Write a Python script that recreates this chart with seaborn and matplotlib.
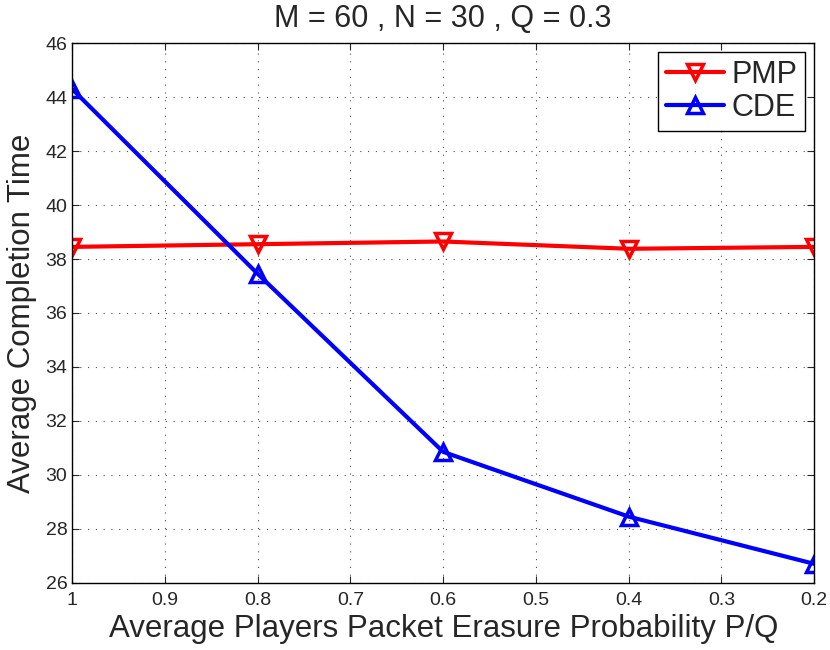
import numpy as np
import pandas as pd
import seaborn as sns
import matplotlib
matplotlib.use("Agg")
import matplotlib.pyplot as plt

# values
erasure_prob = [1.0, 0.8, 0.6, 0.4, 0.2]
pmp_time = [38.45, 38.55, 38.65, 38.38, 38.45]
cde_time = [44.3, 37.45, 30.85, 28.45, 26.7]
x_ticks = [1, 0.9, 0.8, 0.7, 0.6, 0.5, 0.4, 0.3, 0.2]
x_tick_labels = ["1", "0.9", "0.8", "0.7", "0.6", "0.5", "0.4", "0.3", "0.2"]
y_ticks = [26, 28, 30, 32, 34, 36, 38, 40, 42, 44, 46]

df = pd.DataFrame({"p": erasure_prob, "PMP": pmp_time, "CDE": cde_time})

sns.set_style("ticks")
plt.rcParams['font.family'] = ['Liberation Sans', 'DejaVu Sans']

fig = plt.figure(figsize=(8.3, 6.5), dpi=100)
ax = fig.add_axes([0.087, 0.1035, 0.894, 0.830])

sns.lineplot(data=df, x="p", y="PMP", ax=ax, color="red", linewidth=3,
             marker="v", markersize=12, markerfacecolor="none",
             markeredgecolor="red", markeredgewidth=2.5, label="PMP")
sns.lineplot(data=df, x="p", y="CDE", ax=ax, color="blue", linewidth=3,
             marker="^", markersize=12, markerfacecolor="none",
             markeredgecolor="blue", markeredgewidth=2.5, label="CDE")

ax.set_xlim(1, 0.2)
ax.set_ylim(26, 46)
ax.set_xticks(x_ticks)
ax.set_xticklabels(x_tick_labels)
ax.set_yticks(y_ticks)
ax.tick_params(direction="in", labelsize=14, length=5, top=True, right=True)
ax.tick_params(axis="x", pad=7)
ax.grid(True, linestyle=(0, (1, 6)), color="black", linewidth=0.8, alpha=0.7)
for s in ax.spines.values():
    s.set_visible(True)
    s.set_color("black")
    s.set_linewidth(1)

ax.set_title("M = 60 , N = 30 , Q = 0.3", fontsize=22, pad=12)
ax.set_xlabel("Average Players Packet Erasure Probability P/Q", fontsize=22.5, labelpad=3)
ax.set_ylabel("Average Completion Time", fontsize=22.5, labelpad=6)

leg = ax.legend(loc="upper right", fontsize=22, fancybox=False, framealpha=1,
                edgecolor="black", handlelength=1.9, borderpad=0.25,
                labelspacing=0.1, handletextpad=0.25, borderaxespad=0.3)
leg.get_frame().set_linewidth(1)

fig.savefig("out.png", dpi=100)
